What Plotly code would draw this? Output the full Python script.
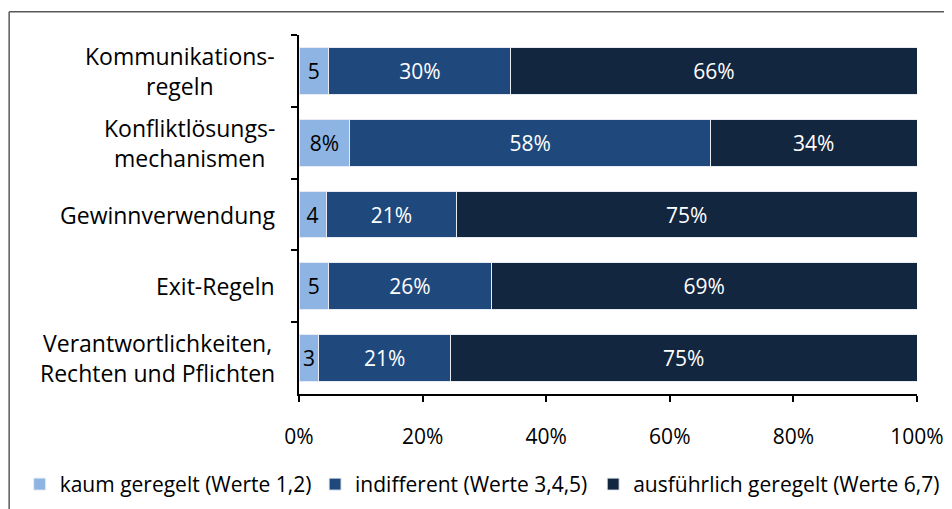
"""Stacked horizontal bar chart: wie ausführlich sind Regeln geregelt."""

import plotly.graph_objects as go

categories = [
    "Kommunikations-<br>regeln",
    "Konfliktlösungs-<br>mechanismen",
    "Gewinnverwendung",
    "Exit-Regeln",
    "Verantwortlichkeiten,<br>Rechten und Pflichten",
]
kaum = [4.8, 8.2, 4.4, 4.8, 3.2]
indifferent = [29.5, 58.4, 21.1, 26.3, 21.3]
ausfuehrlich = [65.7, 33.4, 74.5, 68.9, 75.5]
kaum_text = ["5", "8%", "4", "5", "3"]
indifferent_text = ["30%", "58%", "21%", "26%", "21%"]
ausfuehrlich_text = ["66%", "34%", "75%", "69%", "75%"]
x_ticks = [0, 20, 40, 60, 80, 100]
x_tick_labels = ["0%", "20%", "40%", "60%", "80%", "100%"]

FONT = "Open Sans, sans-serif"

series = [
    ("kaum geregelt (Werte 1,2)", kaum, kaum_text, "#8DB4E2", "black", "legend", -0.452),
    ("indifferent (Werte 3,4,5)", indifferent, indifferent_text, "#1F497D", "white", "legend2", 0.026),
    ("ausführlich geregelt (Werte 6,7)", ausfuehrlich, ausfuehrlich_text, "#13263F", "white", "legend3", 0.476),
]

fig = go.Figure()
legends = {}
for name, vals, txt, color, tcolor, leg, leg_x in series:
    fig.add_trace(go.Bar(
        y=categories, x=vals, name=name, orientation="h",
        marker=dict(color=color, line=dict(color="#E8ECF2", width=1)),
        text=txt, textposition="inside", insidetextanchor="middle",
        textangle=0, constraintext="none",
        textfont=dict(family=FONT, size=21, color=tcolor),
        hoverinfo="skip", legend=leg,
    ))
    legends[leg] = dict(orientation="h", x=leg_x, y=-0.252, xanchor="left",
                        yanchor="middle", font=dict(family=FONT, size=21),
                        bgcolor="rgba(0,0,0,0)")

# category labels as centred annotations
for cat in categories:
    fig.add_annotation(x=-0.035, y=cat, xref="paper", yref="y", text=cat,
                       showarrow=False, xanchor="right", align="center",
                       font=dict(family=FONT, size=23, color="black"))

# outer chart border (top and left edges visible)
fig.add_shape(type="line", xref="paper", yref="paper", x0=-0.469, x1=1.1,
              y0=1.065, y1=1.065, line=dict(color="#595959", width=1.5))
fig.add_shape(type="line", xref="paper", yref="paper", x0=-0.469, x1=-0.469,
              y0=1.065, y1=-0.4, line=dict(color="#595959", width=1.5))

fig.update_layout(
    barmode="stack", bargap=0.35,
    width=952, height=509,
    margin=dict(l=289, r=43, t=27, b=114),
    plot_bgcolor="white", paper_bgcolor="white",
    font=dict(family=FONT, size=21, color="black"),
    showlegend=True,
    **legends,
    xaxis=dict(range=[0, 100], tickvals=x_ticks, ticktext=x_tick_labels,
               showgrid=False, zeroline=False, showline=True, linecolor="black",
               linewidth=2, ticks="outside", ticklen=6, tickwidth=2,
               tickcolor="black", tickfont=dict(size=21), ticklabelstandoff=17),
    yaxis=dict(autorange="reversed", showticklabels=False, showgrid=False,
               showline=True, linecolor="black", linewidth=2, ticks="outside",
               tickson="boundaries", ticklen=6, tickwidth=2, tickcolor="black"),
)

fig.write_html("out.html")
